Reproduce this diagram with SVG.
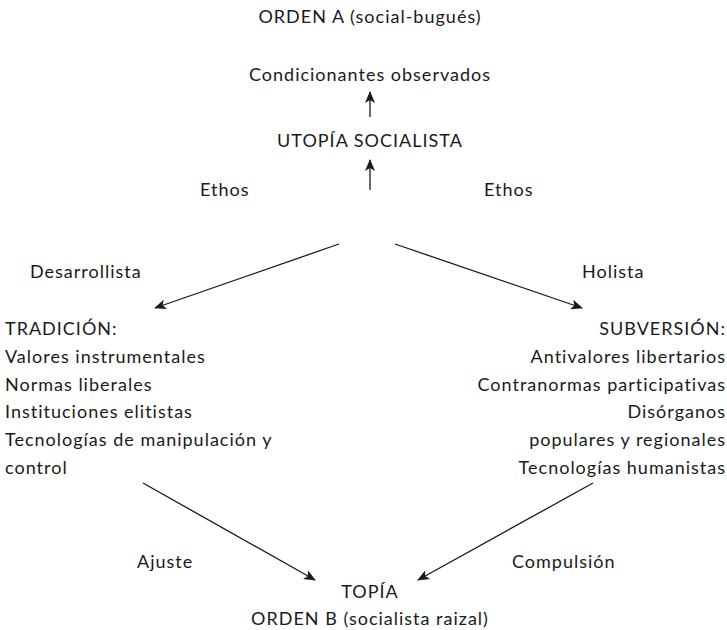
<svg xmlns="http://www.w3.org/2000/svg" width="727" height="630" viewBox="0 0 727 630">
<style>
text{font-family:Lato,"Open Sans",sans-serif;font-size:18px;letter-spacing:1px;fill:#1a1a1a}
.c{text-anchor:middle}
.r{text-anchor:end}
.e{stroke:#1a1a1a;stroke-width:1.3;fill:none;marker-end:url(#ah)}
</style>
<defs>
<marker id="ah" viewBox="0 0 12 10" refX="11" refY="5" markerWidth="12" markerHeight="10" markerUnits="userSpaceOnUse" orient="auto">
<path d="M0,0 L12,5 L0,10 L3,5 z" fill="#1a1a1a"/>
</marker>
</defs>
<g id="ordenA"><text class="c" x="370" y="23">ORDEN A (social-bugués)</text></g>
<g id="condicionantes"><text class="c" x="370" y="81">Condicionantes observados</text></g>
<g id="utopia"><text class="c" x="370" y="147">UTOPÍA SOCIALISTA</text></g>
<g id="ethosL"><text x="200" y="196">Ethos</text></g>
<g id="ethosR"><text x="484" y="196">Ethos</text></g>
<g id="desarrollista"><text x="30" y="278">Desarrollista</text></g>
<g id="holista"><text x="582" y="278">Holista</text></g>
<g id="tradicion">
<text x="5" y="335">TRADICIÓN:</text>
<text x="5" y="363">Valores instrumentales</text>
<text x="5" y="391">Normas liberales</text>
<text x="5" y="418">Instituciones elitistas</text>
<text x="5" y="446">Tecnologías de manipulación y</text>
<text x="5" y="474">control</text>
</g>
<g id="subversion">
<text class="r" x="726" y="335">SUBVERSIÓN:</text>
<text class="r" x="726" y="363">Antivalores libertarios</text>
<text class="r" x="726" y="391">Contranormas participativas</text>
<text class="r" x="726" y="418">Disórganos</text>
<text class="r" x="726" y="446">populares y regionales</text>
<text class="r" x="726" y="474">Tecnologías humanistas</text>
</g>
<g id="ajuste"><text x="137" y="568">Ajuste</text></g>
<g id="compulsion"><text x="512" y="568">Compulsión</text></g>
<g id="topia">
<text class="c" x="370" y="598">TOPÍA</text>
<text class="c" x="370" y="625">ORDEN B (socialista raizal)</text>
</g>
<g id="connectors">
<line class="e" x1="370" y1="117" x2="370" y2="92"/>
<line class="e" x1="370" y1="190" x2="370" y2="160"/>
<line class="e" x1="339" y1="244" x2="155" y2="308"/>
<line class="e" x1="395" y1="244" x2="582" y2="308"/>
<line class="e" x1="143" y1="483" x2="315" y2="580"/>
<line class="e" x1="593" y1="483" x2="418" y2="580"/>
</g>
</svg>
